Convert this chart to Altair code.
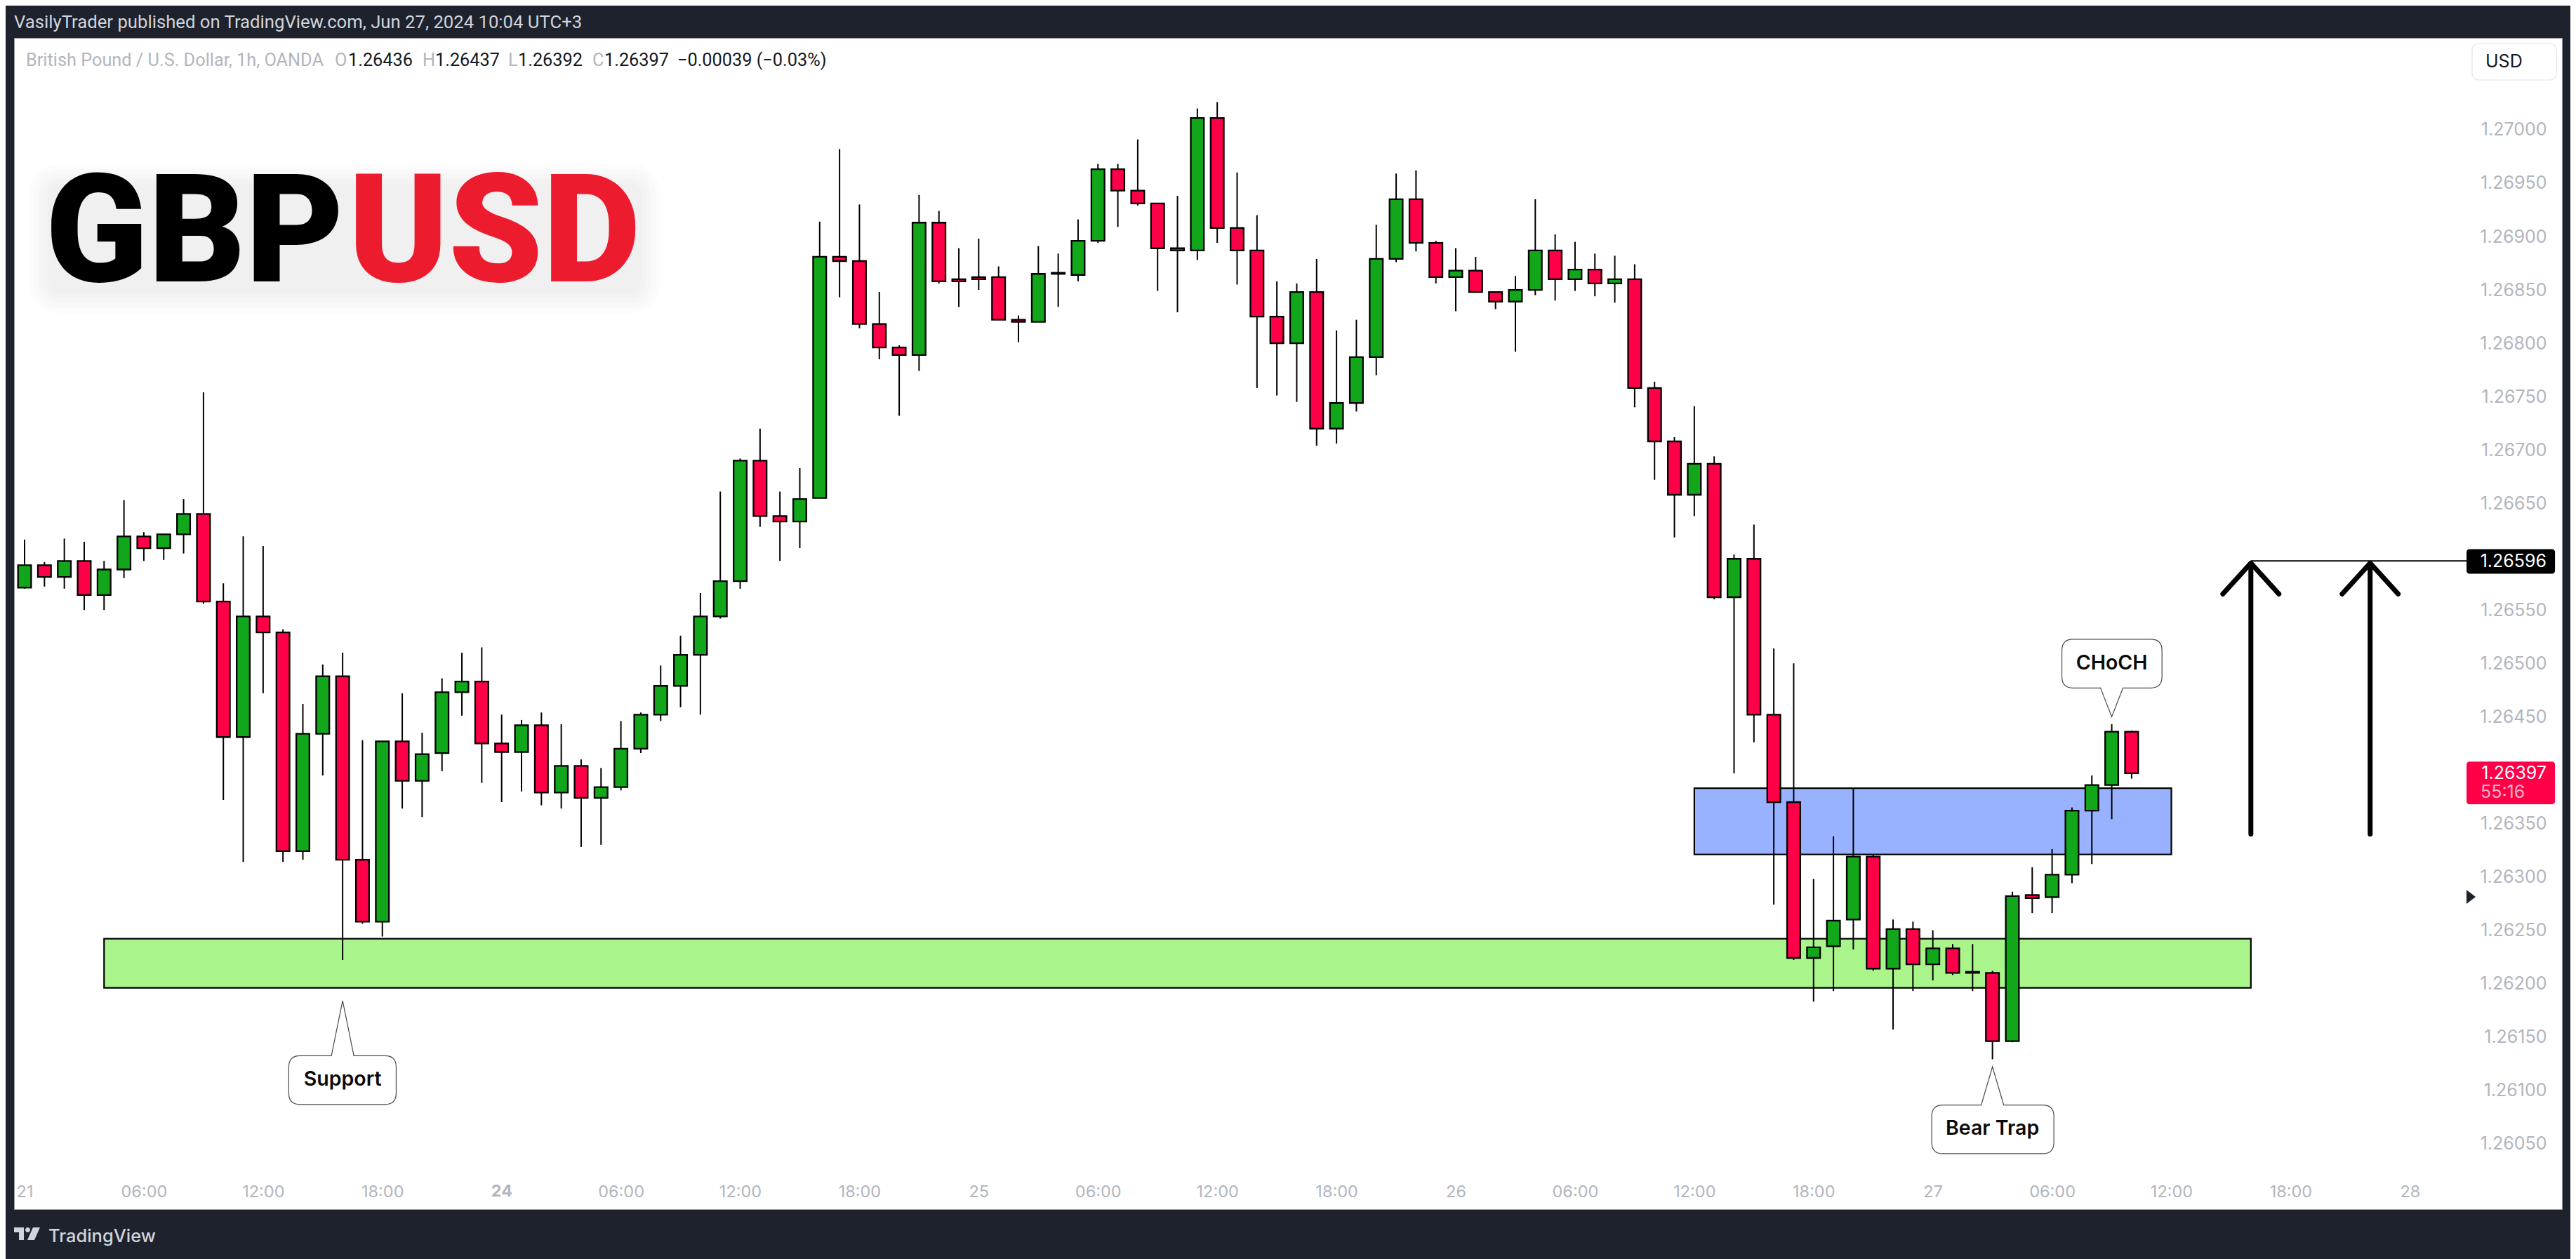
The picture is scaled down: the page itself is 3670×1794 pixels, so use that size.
import json
import pandas as pd
import altair as alt

# hourly GBPUSD candles
opens = [1.26571, 1.26592, 1.26581, 1.26596, 1.26564, 1.26588, 1.26619, 1.26608, 1.26621, 1.26640,
         1.26558, 1.26431, 1.26544, 1.26529, 1.26324, 1.26434, 1.26488, 1.26316, 1.26258, 1.26427,
         1.26390, 1.26416, 1.26473, 1.26483, 1.26425, 1.26417, 1.26442, 1.26379, 1.26404, 1.26374,
         1.26384, 1.26420, 1.26452, 1.26479, 1.26508, 1.26544, 1.26577, 1.26690, 1.26638, 1.26633,
         1.26655, 1.26881, 1.26877, 1.26818, 1.26796, 1.26789, 1.26913, 1.26860, 1.26862, 1.26862,
         1.26822, 1.26820, 1.26865, 1.26864, 1.26896, 1.26963, 1.26943, 1.26931, 1.26889, 1.26887,
         1.27011, 1.26908, 1.26887, 1.26825, 1.26800, 1.26848, 1.26720, 1.26744, 1.26787, 1.26879,
         1.26935, 1.26894, 1.26862, 1.26868, 1.26848, 1.26839, 1.26850, 1.26887, 1.26860, 1.26869,
         1.26856, 1.26860, 1.26758, 1.26708, 1.26658, 1.26687, 1.26562, 1.26598, 1.26452, 1.26370,
         1.26224, 1.26235, 1.26260, 1.26319, 1.26214, 1.26251, 1.26218, 1.26233, 1.26211, 1.26210,
         1.26146, 1.26283, 1.26281, 1.26302, 1.26362, 1.26386, 1.26436]
highs = [1.26616, 1.26595, 1.26617, 1.26614, 1.26596, 1.26653, 1.26623, 1.26621, 1.26654, 1.26754,
         1.26575, 1.26619, 1.26610, 1.26532, 1.26462, 1.26499, 1.26510, 1.26428, 1.26427, 1.26472,
         1.26435, 1.26486, 1.26510, 1.26515, 1.26452, 1.26447, 1.26454, 1.26443, 1.26410, 1.26402,
         1.26446, 1.26454, 1.26498, 1.26526, 1.26566, 1.26661, 1.26692, 1.26720, 1.26661, 1.26683,
         1.26914, 1.26982, 1.26930, 1.26848, 1.26798, 1.26939, 1.26924, 1.26889, 1.26898, 1.26872,
         1.26826, 1.26891, 1.26884, 1.26916, 1.26968, 1.26968, 1.26991, 1.26931, 1.26938, 1.27020,
         1.27026, 1.26960, 1.26920, 1.26858, 1.26856, 1.26879, 1.26812, 1.26822, 1.26911, 1.26959,
         1.26962, 1.26896, 1.26889, 1.26881, 1.26848, 1.26863, 1.26935, 1.26902, 1.26895, 1.26884,
         1.26882, 1.26874, 1.26764, 1.26712, 1.26741, 1.26694, 1.26602, 1.26630, 1.26514, 1.26500,
         1.26298, 1.26338, 1.26383, 1.26321, 1.26260, 1.26258, 1.26250, 1.26237, 1.26237, 1.26212,
         1.26286, 1.26309, 1.26326, 1.26365, 1.26395, 1.26443, 1.26437]
lows = [1.26570, 1.26572, 1.26570, 1.26550, 1.26550, 1.26580, 1.26596, 1.26597, 1.26603, 1.26556,
        1.26372, 1.26314, 1.26472, 1.26314, 1.26316, 1.26395, 1.26222, 1.26256, 1.26244, 1.26364,
        1.26356, 1.26399, 1.26451, 1.26388, 1.26370, 1.26380, 1.26367, 1.26364, 1.26328, 1.26330,
        1.26381, 1.26416, 1.26446, 1.26459, 1.26452, 1.26542, 1.26570, 1.26628, 1.26596, 1.26608,
        1.26655, 1.26843, 1.26814, 1.26785, 1.26732, 1.26774, 1.26856, 1.26834, 1.26850, 1.26822,
        1.26801, 1.26820, 1.26834, 1.26858, 1.26894, 1.26909, 1.26929, 1.26849, 1.26829, 1.26878,
        1.26894, 1.26855, 1.26758, 1.26751, 1.26745, 1.26704, 1.26706, 1.26736, 1.26770, 1.26876,
        1.26886, 1.26856, 1.26830, 1.26848, 1.26832, 1.26792, 1.26845, 1.26840, 1.26849, 1.26844,
        1.26838, 1.26740, 1.26672, 1.26618, 1.26638, 1.26560, 1.26397, 1.26426, 1.26274, 1.26222,
        1.26183, 1.26193, 1.26232, 1.26212, 1.26157, 1.26193, 1.26203, 1.26208, 1.26193, 1.26129,
        1.26145, 1.26266, 1.26266, 1.26294, 1.26312, 1.26354, 1.26392]
closes = [1.26592, 1.26581, 1.26596, 1.26564, 1.26588, 1.26619, 1.26608, 1.26621, 1.26640, 1.26558,
          1.26431, 1.26544, 1.26529, 1.26324, 1.26434, 1.26488, 1.26316, 1.26258, 1.26427, 1.26390,
          1.26415, 1.26473, 1.26483, 1.26425, 1.26417, 1.26442, 1.26379, 1.26404, 1.26374, 1.26384,
          1.26420, 1.26452, 1.26479, 1.26508, 1.26544, 1.26577, 1.26690, 1.26638, 1.26633, 1.26654,
          1.26881, 1.26877, 1.26818, 1.26796, 1.26789, 1.26913, 1.26858, 1.26858, 1.26860, 1.26822,
          1.26820, 1.26865, 1.26866, 1.26896, 1.26963, 1.26943, 1.26931, 1.26889, 1.26887, 1.27011,
          1.26908, 1.26887, 1.26825, 1.26800, 1.26848, 1.26720, 1.26744, 1.26787, 1.26879, 1.26935,
          1.26894, 1.26862, 1.26868, 1.26848, 1.26839, 1.26850, 1.26887, 1.26860, 1.26869, 1.26856,
          1.26860, 1.26758, 1.26708, 1.26658, 1.26687, 1.26562, 1.26598, 1.26452, 1.26370, 1.26224,
          1.26234, 1.26259, 1.26319, 1.26214, 1.26251, 1.26218, 1.26233, 1.26210, 1.26210, 1.26146,
          1.26282, 1.26280, 1.26302, 1.26362, 1.26386, 1.26436, 1.26397]

price_ticks = [1.27000, 1.26950, 1.26900, 1.26850, 1.26800, 1.26750, 1.26700, 1.26650, 1.26550, 1.26500,
               1.26450, 1.26350, 1.26300, 1.26250, 1.26200, 1.26150, 1.26100, 1.26050]
time_labels = ["21", "06:00", "12:00", "18:00", "", "06:00", "12:00", "18:00", "25", "06:00", "12:00",
               "18:00", "26", "06:00", "12:00", "18:00", "27", "06:00", "12:00", "18:00", "28"]
time_ticks = [i * 6 for i in range(len(time_labels))]

legend_texts = ["British Pound / U.S. Dollar, 1h, OANDA", "O", "1.26436", "H", "1.26437", "L", "1.26392",
                "C", "1.26397", "−0.00039 (−0.03%)"]
legend_left = [37, 477, 496, 602, 620, 724, 738, 844, 861, 965]
legend_dark = [False, False, True, False, True, False, True, False, True, True]

# zones: bar index from/to, price from/to
support_zone = [4, 112, 1.26196, 1.26242]
choch_zone = [84, 108, 1.26321, 1.26383]
target_price = 1.26596
last_price = 1.26397

GREEN = "#12A61A"
RED = "#FF0048"
DARK = "#1E222D"
GREY = "#B2B5BE"

# panel in page pixels, the rest is dark frame
PANEL = dict(left=20, top=54, right=3650, bottom=1723)


def px(x):
    return x - PANEL["left"]


def py(y):
    return y - PANEL["top"]


# padding=0: bars on a continuous x would otherwise widen the scale
x_scale = alt.Scale(domain=[-0.53, 127.65], nice=False, zero=False, padding=0)
y_scale = alt.Scale(domain=[1.259886, 1.270861], nice=False, zero=False, padding=0)

x_axis = alt.Axis(
    values=time_ticks,
    labelExpr=f"{json.dumps(time_labels)}[datum.value / 6]",
    grid=False, ticks=False, domain=False,
    labelColor=GREY, labelFont="Inter", labelFontSize=23.5, labelPadding=-25, labelBaseline="middle", labelFlush=False,
    labelOverlap=False,
)
y_axis = alt.Axis(
    values=price_ticks, format=".5f", orient="right",
    grid=False, ticks=False, domain=False,
    labelColor=GREY, labelFont="Inter", labelFontSize=25, labelPadding=-22, labelAlign="right", labelOverlap=False,
)


def X(field):
    return alt.X(field, type="quantitative", scale=x_scale, axis=x_axis, title=None)


def Y(field):
    return alt.Y(field, type="quantitative", scale=y_scale, axis=y_axis, title=None)


def note(text, x, y, size=24, color="black", font="Roboto", weight="normal", align="left", baseline="middle"):
    return alt.Chart(pd.DataFrame({"t": [text]})).mark_text(
        font=font, fontSize=size, color=color, fontWeight=weight, align=align, baseline=baseline
    ).encode(x=alt.value(px(x)), y=alt.value(py(y)), text="t:N")


def callout_path(left, right, near, far, r=16, base=16):
    # speech bubble with its tip on the anchor, sign of near/far says up or down
    s = 1 if far > near else -1
    return (
        f"M0,0L{base},{near}L{right - r},{near}Q{right},{near} {right},{near + s * r}"
        f"L{right},{far - s * r}Q{right},{far} {right - r},{far}"
        f"L{left + r},{far}Q{left},{far} {left},{far - s * r}"
        f"L{left},{near + s * r}Q{left},{near} {left + r},{near}L{-base},{near}Z"
    )


df = pd.DataFrame({"k": range(len(opens)), "open": opens, "high": highs, "low": lows, "close": closes})
df["top"] = df[["open", "close"]].max(axis=1)
df["bot"] = df[["open", "close"]].min(axis=1)
df["color"] = [GREEN if c >= o else RED for o, c in zip(opens, closes)]

zones = pd.DataFrame([support_zone + ["#A9F58C"], choch_zone + ["#99B2FF"]], columns=["k0", "k1", "p0", "p1", "fill"])

zone_layer = alt.Chart(zones).mark_rect(stroke="black", strokeWidth=2.2).encode(
    x=X("k0"), x2="k1:Q", y=Y("p0"), y2="p1:Q", fill=alt.Fill("fill:N", scale=None)
)

wicks = alt.Chart(df).mark_rule(color="black", strokeWidth=2).encode(x=X("k"), y=Y("low"), y2="high:Q")
bodies = alt.Chart(df).mark_bar(size=18.7, stroke="black", strokeWidth=2.3).encode(
    x=X("k"), y=Y("bot"), y2="top:Q", fill=alt.Fill("color:N", scale=None)
)

# target line and the two arrows under it
ray = alt.Chart(pd.DataFrame({"k0": [112], "k1": [122.85], "p": [target_price]})).mark_rule(color="black", strokeWidth=2).encode(
    x=X("k0"), x2="k1:Q", y=Y("p")
)
arrow_rows = []
for arrow, k in enumerate([112, 118]):
    arrow_rows += [
        {"part": f"s{arrow}", "i": 0, "k": k, "p": 1.26340},
        {"part": f"s{arrow}", "i": 1, "k": k, "p": 1.26590},
        {"part": f"h{arrow}", "i": 0, "k": k - 1.41, "p": 1.26565},
        {"part": f"h{arrow}", "i": 1, "k": k, "p": 1.26594},
        {"part": f"h{arrow}", "i": 2, "k": k + 1.41, "p": 1.26565},
    ]
arrows = alt.Chart(pd.DataFrame(arrow_rows)).mark_line(
    color="black", strokeWidth=7, strokeCap="round", strokeJoin="round"
).encode(x=X("k"), y=Y("p"), detail="part:N", order="i:Q")

# callouts: anchor is the tip, text sits on its own price
callouts = []
for k, tip, path, text, text_price in [
    (16, 1.26184, callout_path(-76.7, 76.3, 78.6, 148), "Support", 1.26110),
    (99, 1.26122, callout_path(-86.5, 87.5, 54.4, 123.8), "Bear Trap", 1.26064),
    (105, 1.26450, callout_path(-71, 71.6, -41, -110.4), "CHoCH", 1.26500),
]:
    callouts.append(
        alt.Chart(pd.DataFrame({"k": [k], "p": [tip]})).mark_point(
            shape=path, size=4, filled=True, fill="white", stroke="#4A4A4A", strokeWidth=1.2, opacity=1
        ).encode(x=X("k"), y=Y("p"))
    )
    callouts.append(
        alt.Chart(pd.DataFrame({"k": [k], "p": [text_price], "t": [text]})).mark_text(
            font="Inter", fontSize=28.5, fontWeight=600, color="#0A0A0A"
        ).encode(x=X("k"), y=Y("p"), text="t:N")
    )

# price tags on the right
tags = pd.DataFrame({
    "k0": [122.85, 122.85], "k1": [127.3, 127.3],
    "p0": [1.26584, 1.26368], "p1": [1.26607, 1.26408], "fill": ["black", RED],
})
tag_layer = alt.Chart(tags).mark_rect(cornerRadius=4).encode(
    x=X("k0"), x2="k1:Q", y=Y("p0"), y2="p1:Q", fill=alt.Fill("fill:N", scale=None)
)
tag_text = [
    note("1.26596", 3628, 800, size=25, color="white", font="Inter", align="right"),
    note("1.26397", 3628, 1102, size=25, color="white", font="Inter", align="right"),
    note("55:16", 3534, 1129, size=25, color="#FFB3C8", font="Inter"),
]

# big ticker, with soft grey haze below it instead of the blurred shadow
haze = []
for grow in [0, 7, 14, 21, 28]:
    haze.append(
        alt.Chart(pd.DataFrame({"a": [0]})).mark_rect(fill="black", opacity=0.012, cornerRadius=14 + grow).encode(
            x=alt.value(px(69 - grow)), x2=alt.value(px(913 + grow)),
            y=alt.value(py(262 - grow)), y2=alt.value(py(418 + grow)),
        )
    )
ticker = [
    note("GBP", 490, 401, size=215, color="black", weight=900, align="right", baseline="alphabetic"),
    note("USD", 496, 401, size=215, color="#EC1C2E", weight=900, baseline="alphabetic"),
]

legend = [
    note(t, x, 86, color="#131722" if dark else GREY, size=25.3)
    for t, x, dark in zip(legend_texts, legend_left, legend_dark)
]

usd_box = alt.Chart(pd.DataFrame({"a": [0]})).mark_rect(
    fill="white", stroke="#E0E3EB", strokeWidth=1.2, cornerRadius=9
).encode(x=alt.value(px(3522)), x2=alt.value(px(3642)), y=alt.value(py(62)), y2=alt.value(py(114)))

logo = alt.Chart(pd.DataFrame({"a": [0]})).mark_point(
    shape="M0,0H14V18H7V7H0ZM16,3.5A3.5,3.5 0 1 1 23,3.5A3.5,3.5 0 1 1 16,3.5ZM27,0H37L29,18H19Z",
    size=4, filled=True, fill="#D1D4DC", opacity=1,
).encode(x=alt.value(px(20)), y=alt.value(py(1749)))

marker = alt.Chart(pd.DataFrame({"a": [0]})).mark_point(
    shape="M0,0L13,10L0,20Z", size=4, filled=True, fill=DARK, opacity=1
).encode(x=alt.value(px(3514)), y=alt.value(py(1268)))

chart = alt.layer(
    *haze,
    zone_layer,
    wicks,
    bodies,
    ray,
    arrows,
    *callouts,
    tag_layer,
    *tag_text,
    *ticker,
    *legend,
    usd_box,
    note("USD", 3541, 88, size=25, color="#131722", font="Inter"),
    note("24", 715, 1698, size=23.5, color=GREY, font="Inter", weight="bold", align="center"),
    note("VasilyTrader published on TradingView.com, Jun 27, 2024 10:04 UTC+3", 20, 32, size=25.7, color="#D1D4DC"),
    logo,
    note("TradingView", 69, 1762, size=25.5, color="#D1D4DC", font="Inter", weight=500),
    marker,
).properties(
    width=3630,
    height=1669,
    padding={"left": 12, "top": 46, "right": 12, "bottom": 71},
    autosize=alt.AutoSizeParams(type="none"),
    background=DARK,
).configure_view(fill="white", stroke="#9598A1", strokeWidth=1)

chart.save("out.html", embed_options={"renderer": "svg", "actions": False})
